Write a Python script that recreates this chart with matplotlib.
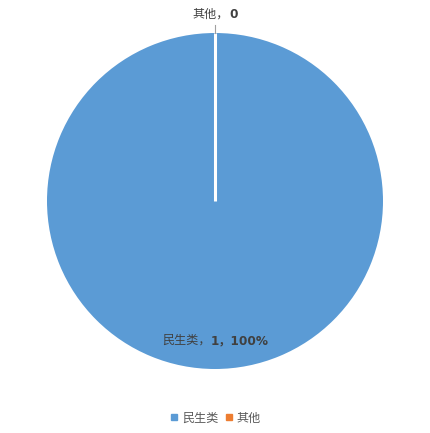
import numpy as np
import matplotlib
matplotlib.use('Agg')
import matplotlib.pyplot as plt
from matplotlib.lines import Line2D
from matplotlib.offsetbox import TextArea, HPacker, AnnotationBbox

fam = ['DejaVu Sans', 'Noto Sans CJK SC']
plt.rcParams['font.family'] = fam

categories = ['民生类', '其他']
values = [1, 0]
colors = ['#5B9BD5', '#ED7D31']

fig = plt.figure(figsize=(4.31, 4.33), dpi=100)
ax = fig.add_axes([47 / 431, 64 / 433, 336 / 431, 336 / 433])

wedges, _ = ax.pie(values, colors=colors, startangle=90, counterclock=False,
                   wedgeprops=dict(linewidth=0))
ax.set_xlim(-1, 1)
ax.set_ylim(-1, 1)
ax.set_aspect('auto')

total = sum(values)
txt = '#404040'


def label(parts, xy):
    boxes = [TextArea(s, textprops=dict(color=txt, fontsize=8.7, fontweight=w, family=fam))
             for s, w in parts]
    pack = HPacker(children=boxes, align='baseline', pad=0, sep=0)
    ab = AnnotationBbox(pack, xy, frameon=False, box_alignment=(0.5, 0.5),
                        annotation_clip=False)
    ax.add_artist(ab)


for w, name, v in zip(wedges, categories, values):
    mid = np.deg2rad((w.theta1 + w.theta2) / 2)
    if v > 0:
        pct = v / total * 100
        label([(name + '，', 'normal'), (f'{v}，{pct:.0f}%', 'bold')],
              (0, -0.83))
    else:
        # zero slice: white separator from centre, leader line outward
        x, y = np.cos(mid), np.sin(mid)
        ax.plot([0, x], [0, y], color='white', lw=2.2, solid_capstyle='butt')
        ax.plot([x, 1.05 * x], [y, 1.05 * y], color='#a0a0a0', lw=0.8,
                clip_on=False)
        label([(name + '，', 'normal'), (f'{v}', 'bold')], (x * 1.11, y * 1.11))

handles = [Line2D([], [], marker='s', ls='', color=c, markersize=4) for c in colors]
leg = fig.legend(handles, categories, loc='center', bbox_to_anchor=(0.5, 1 - 418 / 433),
                 ncol=2, frameon=False, fontsize=8.7, handlelength=0.7,
                 handletextpad=0.3, columnspacing=0.5, labelcolor='#595959')

fig.savefig('out.png', dpi=100)
